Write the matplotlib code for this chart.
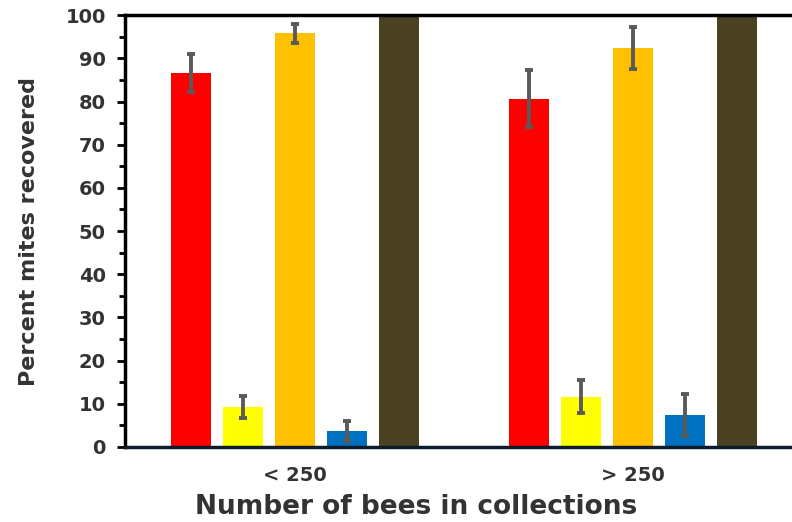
import numpy as np
import matplotlib.pyplot as plt
from matplotlib.ticker import MultipleLocator

plt.rcParams['font.family'] = ['DejaVu Sans']
plt.rcParams['font.weight'] = 'bold'

# data
groups = ['< 250', '> 250']
colors = ['#FF0000', '#FFFF00', '#FFC000', '#0070C0', '#4A4123']
means = [
    [86.7, 9.3, 95.8, 3.7, 100.0],
    [80.6, 11.6, 92.4, 7.4, 100.0],
]
errs = [
    [4.4, 2.6, 2.2, 2.3, 0.0],
    [6.6, 3.8, 4.8, 4.9, 0.0],
]

fig = plt.figure(figsize=(7.92, 5.22), dpi=100)
ax = fig.add_axes([0.158, 0.1437, 0.842, 0.8273])

group_pos = np.array([0.0, 6.5])
offsets = np.arange(5) - 2
for g in range(len(groups)):
    x = group_pos[g] + offsets
    ax.bar(x, means[g], width=0.77, color=colors, zorder=2)
    for i in range(5):
        if errs[g][i] > 0:
            ax.errorbar(x[i], means[g][i], yerr=errs[g][i], fmt='none',
                        ecolor='#595959', elinewidth=2.8, capsize=3,
                        capthick=2.8, zorder=3)

ax.set_xlim(-3.27, 9.56)
ax.set_ylim(0, 100)
ax.set_xticks(group_pos)
ax.set_xticklabels(groups, fontsize=14, fontweight='bold', color='#333333')
ax.yaxis.set_major_locator(MultipleLocator(10))
ax.yaxis.set_minor_locator(MultipleLocator(5))
ax.tick_params(axis='y', which='major', length=6, width=2, labelsize=14,
               labelcolor='#333333', pad=8)
ax.tick_params(axis='y', which='minor', length=4, width=2)
ax.tick_params(axis='x', length=0, pad=14)
for lab in ax.get_yticklabels():
    lab.set_fontweight('bold')

ax.spines['right'].set_visible(False)
ax.spines['top'].set_linewidth(2.5)
ax.spines['left'].set_linewidth(2.5)
ax.spines['bottom'].set_linewidth(2.5)
ax.spines['bottom'].set_color('#0d1b2a')

ax.set_ylabel('Percent mites recovered', fontsize=16, fontweight='bold',
              color='#333333', labelpad=19)
ax.set_xlabel('Number of bees in collections', fontsize=19, fontweight='bold',
              color='#333333')
# the original figure is cropped on the right, so the x label sits left of centre
ax.xaxis.set_label_coords(0.436, -0.109)

plt.savefig('out.png', dpi=100)
